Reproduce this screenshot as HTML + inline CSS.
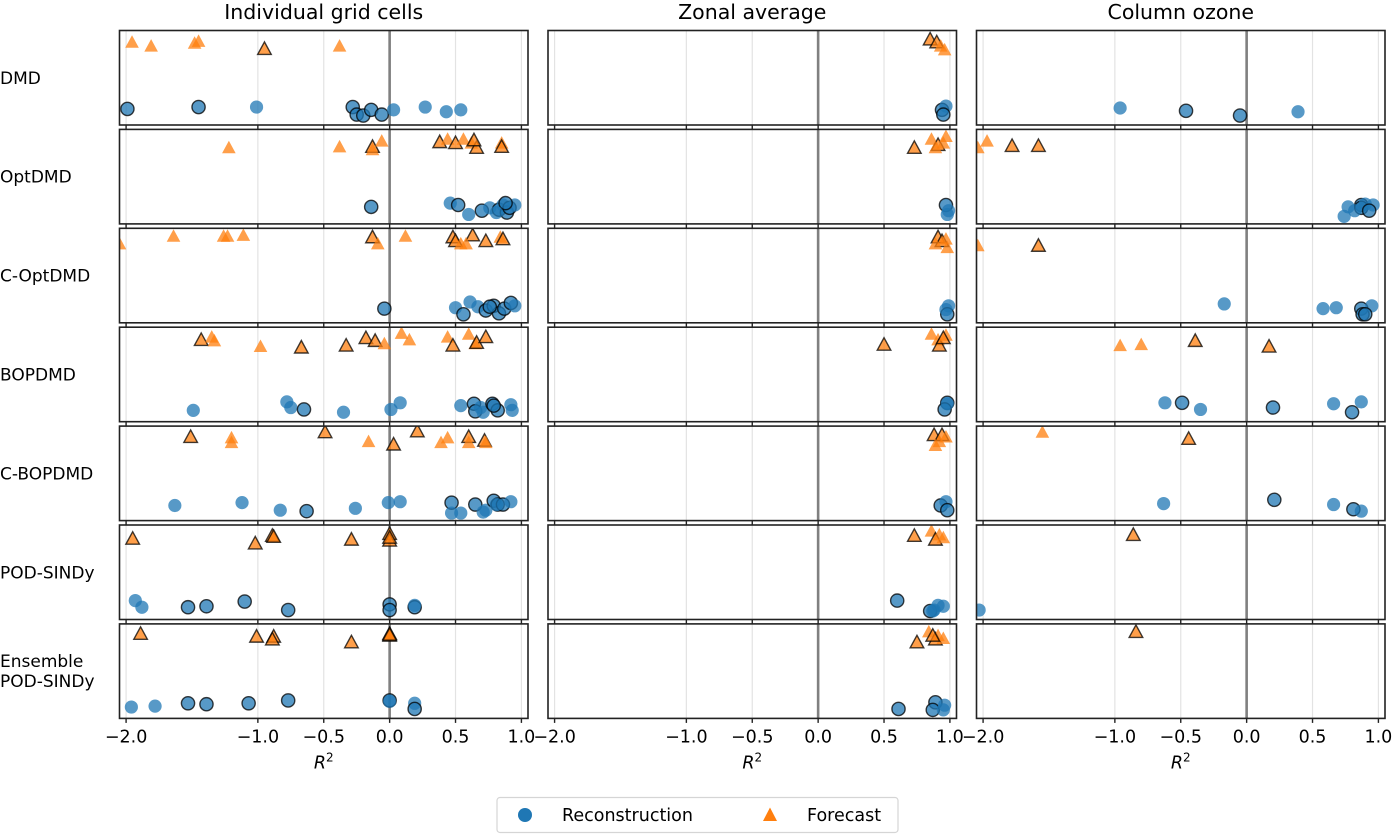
<!DOCTYPE html>
<html><head><meta charset="utf-8"><style>
html,body{margin:0;padding:0;background:#fff;}
svg{display:block;font-family:"DejaVu Sans","Liberation Sans",sans-serif;}
</style></head><body>
<svg id="chart" width="1396" height="835" viewBox="0 0 1396 835" xmlns="http://www.w3.org/2000/svg"></svg>
<script>
// Each point: [R2 value, vertical jitter fraction within row, edged(1/0)]; per method: [grid, zonal, column]
const methods = ["DMD","OptDMD","C-OptDMD","BOPDMD","C-BOPDMD","POD-SINDy","Ensemble POD-SINDy"];
const panelTitles = ["Individual grid cells","Zonal average","Column ozone"];
const tickValues = [-2.0,-1.0,-0.5,0.0,0.5,1.0];
const tickLabels = ["\u22122.0","\u22121.0","\u22120.5","0.0","0.5","1.0"];
const gridValues = [-2.0,-1.0,-0.5,0.5,1.0];

const DMD_R = [
 [[-1.99,.83,1],[-1.45,.81,1],[-1.01,.81,0],[-0.28,.81,1],[-0.25,.89,1],[-0.20,.90,1],[-0.14,.84,1],[-0.06,.89,1],[0.03,.84,0],[0.27,.81,0],[0.43,.86,0],[0.54,.84,0]],
 [[0.94,.84,1],[0.97,.80,0],[0.95,.89,1]],
 [[-0.96,.82,0],[-0.46,.85,1],[-0.05,.90,1],[0.39,.86,0]]];
const DMD_F = [
 [[-1.955,.13,0],[-1.81,.17,0],[-1.48,.14,0],[-1.45,.12,0],[-0.95,.20,1],[-0.38,.17,0]],
 [[0.85,.10,1],[0.90,.13,1],[0.93,.17,0],[0.96,.21,0]],
 []];
const OPT_R = [
 [[-0.14,.82,1],[0.46,.78,0],[0.52,.80,1],[0.60,.90,0],[0.70,.86,1],[0.76,.83,0],[0.83,.85,1],[0.86,.80,0],[0.89,.88,1],[0.91,.83,1],[0.95,.80,0],[0.88,.78,1],[0.81,.88,0]],
 [[0.97,.80,1],[0.99,.86,0],[0.98,.90,0]],
 [[0.74,.92,0],[0.77,.82,0],[0.87,.80,1],[0.87,.83,1],[0.90,.79,0],[0.96,.80,0],[0.93,.86,1],[0.82,.86,0]]];
const OPT_F = [
 [[-1.22,.20,0],[-0.38,.19,0],[-0.13,.19,1],[-0.13,.22,0],[-0.06,.13,0],[0.38,.14,1],[0.44,.11,0],[0.50,.15,1],[0.56,.11,0],[0.62,.15,0],[0.66,.20,1],[0.85,.15,0],[0.85,.19,1],[0.64,.12,1]],
 [[0.73,.20,1],[0.86,.11,0],[0.91,.17,1],[0.95,.15,0],[0.97,.08,0],[0.89,.20,0]],
 [[-2.04,.20,0],[-1.97,.13,0],[-1.78,.18,1],[-1.58,.18,1]]];
const COPT_R = [
 [[-0.04,.85,1],[0.50,.84,0],[0.56,.91,1],[0.61,.78,0],[0.67,.83,0],[0.73,.87,1],[0.79,.82,1],[0.83,.90,1],[0.87,.85,1],[0.92,.79,1],[0.95,.82,0],[0.76,.83,1]],
 [[0.99,.82,0],[0.98,.91,1],[0.97,.86,0]],
 [[-0.17,.80,0],[0.58,.85,0],[0.68,.84,0],[0.87,.85,1],[0.88,.91,1],[0.95,.82,0],[0.90,.91,1]]];
const COPT_F = [
 [[-2.05,.17,0],[-1.64,.09,0],[-1.26,.09,0],[-1.23,.09,0],[-1.11,.08,0],[-0.13,.10,1],[-0.09,.17,0],[0.12,.09,0],[0.48,.10,1],[0.50,.14,1],[0.54,.17,0],[0.63,.08,1],[0.58,.17,0],[0.73,.14,1],[0.84,.10,0],[0.86,.12,1]],
 [[0.91,.10,1],[0.94,.14,1],[0.97,.12,0],[0.89,.17,0],[0.98,.21,0]],
 [[-2.04,.19,0],[-1.58,.19,1]]];
const BOP_R = [
 [[-1.49,.88,0],[-0.78,.79,0],[-0.75,.85,0],[-0.65,.87,1],[-0.35,.90,0],[0.01,.87,0],[0.08,.80,0],[0.54,.83,0],[0.64,.81,1],[0.65,.89,1],[0.69,.85,0],[0.71,.90,0],[0.78,.81,1],[0.82,.88,1],[0.93,.88,0],[0.92,.82,0],[0.79,.83,1]],
 [[0.98,.80,1],[0.96,.87,1],[0.98,.81,0]],
 [[-0.62,.80,0],[-0.49,.80,1],[-0.35,.87,0],[0.20,.85,1],[0.66,.81,0],[0.87,.79,0],[0.80,.90,1]]];
const BOP_F = [
 [[-1.43,.14,1],[-1.35,.11,0],[-1.33,.15,0],[-0.98,.21,0],[-0.67,.22,1],[-0.33,.20,1],[-0.18,.12,1],[-0.11,.15,1],[-0.04,.18,0],[0.09,.07,0],[0.15,.14,0],[0.44,.11,0],[0.48,.20,1],[0.60,.08,0],[0.65,.18,0],[0.66,.17,1],[0.73,.11,1]],
 [[0.50,.19,1],[0.86,.08,0],[0.91,.14,0],[0.92,.20,1],[0.97,.09,0],[0.95,.12,1]],
 [[-0.96,.20,0],[-0.80,.19,0],[-0.39,.15,1],[0.17,.21,1]]];
const CBOP_R = [
 [[-1.63,.84,0],[-1.12,.81,0],[-0.83,.89,0],[-0.63,.90,1],[-0.26,.87,0],[-0.01,.81,0],[0.08,.80,0],[0.47,.81,1],[0.47,.92,0],[0.54,.92,0],[0.65,.83,1],[0.73,.89,0],[0.79,.79,1],[0.82,.83,1],[0.86,.83,1],[0.92,.80,0],[0.71,.91,0],[0.81,.83,0]],
 [[0.93,.84,1],[0.97,.80,0],[0.98,.89,1]],
 [[-0.63,.82,0],[0.21,.78,1],[0.66,.83,0],[0.81,.88,1],[0.87,.90,0]]];
const CBOP_F = [
 [[-1.51,.12,1],[-1.20,.13,0],[-1.20,.18,0],[-0.49,.07,1],[-0.16,.17,0],[0.03,.20,1],[0.21,.06,1],[0.39,.18,0],[0.44,.13,0],[0.60,.12,1],[0.60,.18,0],[0.72,.16,1],[0.73,.18,0]],
 [[0.88,.10,1],[0.94,.10,1],[0.92,.17,0],[0.97,.12,0],[0.89,.21,0]],
 [[-1.55,.07,0],[-0.44,.14,1]]];
const POD_R = [
 [[-1.93,.80,0],[-1.88,.87,0],[-1.53,.87,1],[-1.39,.86,1],[-1.10,.81,1],[-0.77,.90,1],[0.00,.84,1],[0.00,.90,1],[0.19,.87,1],[0.19,.85,0]],
 [[0.60,.80,1],[0.85,.91,1],[0.88,.90,0],[0.91,.85,0],[0.95,.86,0],[0.87,.91,0]],
 [[-2.03,.90,0]]];
const POD_F = [
 [[-1.95,.15,1],[-1.02,.20,1],[-0.89,.12,1],[-0.88,.13,1],[-0.29,.16,1],[0.00,.10,1],[0.00,.17,1],[0.00,.14,1]],
 [[0.73,.12,1],[0.86,.07,0],[0.89,.16,1],[0.92,.11,0],[0.95,.14,0]],
 [[-0.86,.11,1]]];
const ENS_R = [
 [[-1.96,.88,0],[-1.78,.87,0],[-1.53,.84,1],[-1.39,.85,1],[-1.07,.84,1],[-0.77,.81,1],[0.00,.81,1],[0.00,.82,0],[0.19,.84,0],[0.19,.90,1]],
 [[0.61,.90,1],[0.89,.83,1],[0.87,.91,1],[0.96,.86,0],[0.95,.91,0]],
 []];
const ENS_F = [
 [[-1.89,.11,1],[-1.01,.14,1],[-0.88,.14,1],[-0.89,.17,1],[-0.29,.20,1],[0.00,.11,1],[0.00,.13,1],[0.00,.12,1]],
 [[0.75,.20,1],[0.84,.09,0],[0.89,.17,1],[0.91,.13,0],[0.95,.16,0],[0.87,.13,1]],
 [[-0.84,.09,1]]];

const reconAll = [DMD_R,OPT_R,COPT_R,BOP_R,CBOP_R,POD_R,ENS_R];
const foreAll = [DMD_F,OPT_F,COPT_F,BOP_F,CBOP_F,POD_F,ENS_F];

const NS="http://www.w3.org/2000/svg";
const svg=document.getElementById('chart');
function mk(tag,attrs,parent){const e=document.createElementNS(NS,tag);for(const k in attrs)e.setAttribute(k,attrs[k]);(parent||svg).appendChild(e);return e;}
const panelLeft=[119.5,548,976.5], panelW=408.5;
const xMin=-2.05, xMax=1.05;
const rowTop0=30.5, rowStep=98.9, rowH=94.5;
function xScale(p,v){return panelLeft[p]+(v-xMin)/(xMax-xMin)*panelW;}
function yScale(r,f){return rowTop0+r*rowStep+f*rowH;}
const defs=mk('defs',{});

for(let p=0;p<3;p++){
  const t=mk('text',{x:panelLeft[p]+panelW/2,y:19,'text-anchor':'middle','font-size':'20.5',fill:'#000'});
  
  
  t.textContent=panelTitles[p];
}
for(let r=0;r<methods.length;r++){
  const top=yScale(r,0);
  const parts=methods[r]==="Ensemble POD-SINDy"?["Ensemble","POD-SINDy"]:[methods[r]];
  const lab=mk('text',{x:0,y:top+rowH/2+6-(parts.length-1)*10,'font-size':'17',fill:'#000'});
  
  
  parts.forEach((s,i)=>{const ts=mk('tspan',{x:0,dy:i?20:0},lab);ts.textContent=s;});
  for(let p=0;p<3;p++){
    const g=mk('g',{});
    
    
    const cp=mk('clipPath',{id:'c'+r+'_'+p},defs);
    mk('rect',{x:panelLeft[p],y:top,width:panelW,height:rowH},cp);
    gridValues.forEach(v=>{const l=mk('line',{x1:xScale(p,v),x2:xScale(p,v),y1:top,y2:top+rowH,stroke:'#e3e3e3','stroke-width':1.2},g);
      });
    const z=mk('line',{x1:xScale(p,0),x2:xScale(p,0),y1:top,y2:top+rowH,stroke:'#808080','stroke-width':2.6},g);
    
    const pg=mk('g',{'clip-path':'url(#c'+r+'_'+p+')'},g);
    reconAll[r][p].forEach(d=>{
      const c=mk('circle',{cx:xScale(p,d[0]),cy:yScale(r,d[1]),r:6.6,fill:'#1f77b4','fill-opacity':0.75,stroke:d[2]?'#000':'none','stroke-width':1.4,'stroke-opacity':0.75},pg);
      
      
    });
    foreAll[r][p].forEach(d=>{
      const x=xScale(p,d[0]),y=yScale(r,d[1]);
      const tr=mk('polygon',{points:`${x},${y-7.5} ${x-6.8},${y+5} ${x+6.8},${y+5}`,fill:'#ff7f0e','fill-opacity':0.75,stroke:d[2]?'#000':'none','stroke-width':1.4,'stroke-opacity':0.75,'stroke-linejoin':'miter'},pg);
      
      
    });
    const fr=mk('rect',{x:panelLeft[p],y:top,width:panelW,height:rowH,fill:'none',stroke:'#222','stroke-width':1.6},g);
    
    tickValues.forEach(v=>{const tk=mk('line',{x1:xScale(p,v),x2:xScale(p,v),y1:top+rowH,y2:top+rowH+4.5,stroke:'#222','stroke-width':1.4},g);
      });
    if(r===methods.length-1){
      tickValues.forEach((v,i)=>{const tl=mk('text',{x:xScale(p,v),y:top+rowH+24,'text-anchor':'middle','font-size':'17.5',fill:'#000'});
        tl.textContent=tickLabels[i];});
      const at=mk('text',{x:xScale(p,-0.5),y:top+rowH+50,'text-anchor':'middle','font-size':'17.5','font-style':'italic',fill:'#000'});
      
      at.textContent='R';const sup=mk('tspan',{dy:-7,'font-size':'12','font-style':'normal'},at);sup.textContent='2';
    }
  }
}
// legend
const lg=mk('g',{});


mk('rect',{x:497,y:797.5,width:401,height:35,rx:3,fill:'#fff',stroke:'#d5d5d5','stroke-width':1.2},lg);
const lc=mk('circle',{cx:525,cy:815,r:7,fill:'#1f77b4'},lg);

const lt1=mk('text',{x:562,y:821,'font-size':'17.5',fill:'#000'},lg);
lt1.textContent='Reconstruction';
const lt=mk('polygon',{points:'770,807.5 763,821 777,821',fill:'#ff7f0e'},lg);

const lt2=mk('text',{x:807,y:821,'font-size':'17.5',fill:'#000'},lg);
lt2.textContent='Forecast';
</script>
</body></html>
